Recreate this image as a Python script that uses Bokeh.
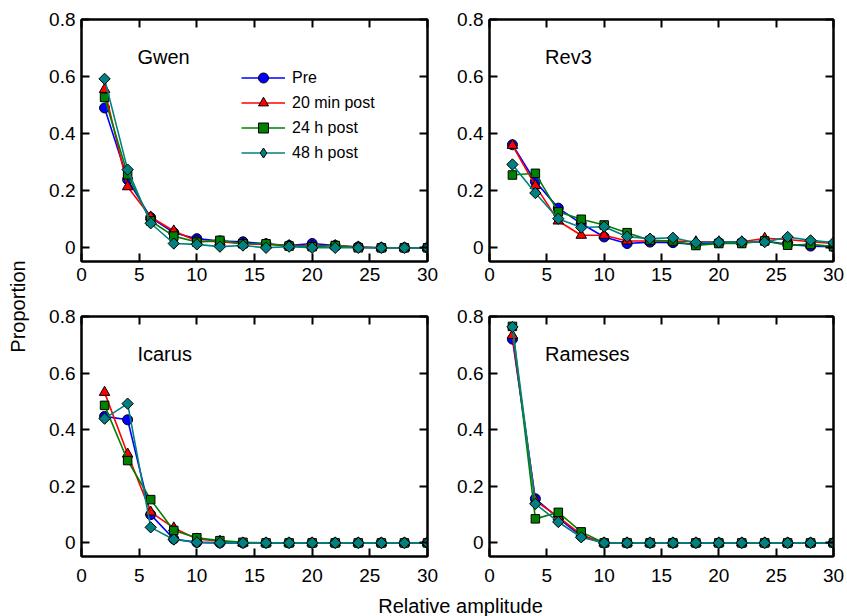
import math
from bokeh.plotting import figure
from bokeh.layouts import row, column
from bokeh.models import (Range1d, LinearAxis, FixedTicker, Label, Legend,
                          CustomJSTickFormatter)
from bokeh.embed import file_html
from bokeh.resources import INLINE

# ---------------- data ----------------
amp = [2, 4, 6, 8, 10, 12, 14, 16, 18, 20, 22, 24, 26, 28, 30]
x_ticks = [0, 5, 10, 15, 20, 25, 30]
y_ticks = [0, 0.2, 0.4, 0.6, 0.8]

series_names = ["Pre", "20 min post", "24 h post", "48 h post"]
panel_names = ["Gwen", "Rev3", "Icarus", "Rameses"]

gwen_pre = [0.490, 0.239, 0.106, 0.053, 0.032, 0.024, 0.021, 0.014, 0.008, 0.015, 0.008, 0.003, 0.0, 0.0, 0.0]
gwen_20m = [0.555, 0.214, 0.108, 0.059, 0.024, 0.021, 0.014, 0.012, 0.008, 0.006, 0.008, 0.003, 0.0, 0.0, 0.0]
gwen_24h = [0.527, 0.256, 0.094, 0.041, 0.020, 0.026, 0.014, 0.014, 0.006, 0.004, 0.008, 0.0, 0.0, 0.0, 0.0]
gwen_48h = [0.592, 0.274, 0.086, 0.015, 0.012, 0.004, 0.008, 0.0, 0.004, 0.0, 0.0, 0.0, 0.0, 0.0, 0.0]

rev3_pre = [0.361, 0.232, 0.139, 0.085, 0.038, 0.015, 0.020, 0.018, 0.012, 0.018, 0.018, 0.024, 0.012, 0.006, 0.004]
rev3_20m = [0.359, 0.218, 0.094, 0.044, 0.044, 0.024, 0.024, 0.024, 0.021, 0.021, 0.021, 0.033, 0.029, 0.021, 0.015]
rev3_24h = [0.255, 0.261, 0.126, 0.100, 0.080, 0.053, 0.026, 0.024, 0.008, 0.015, 0.015, 0.024, 0.009, 0.012, 0.004]
rev3_48h = [0.292, 0.192, 0.102, 0.071, 0.074, 0.039, 0.032, 0.035, 0.018, 0.020, 0.021, 0.020, 0.038, 0.026, 0.018]

icarus_pre = [0.447, 0.435, 0.100, 0.014, 0.002, 0.0, 0.0, 0.0, 0.0, 0.0, 0.0, 0.0, 0.0, 0.0, 0.0]
icarus_20m = [0.532, 0.314, 0.109, 0.053, 0.014, 0.006, 0.0, 0.0, 0.0, 0.0, 0.0, 0.0, 0.0, 0.0, 0.0]
icarus_24h = [0.486, 0.291, 0.153, 0.044, 0.018, 0.008, 0.002, 0.0, 0.0, 0.0, 0.0, 0.0, 0.0, 0.0, 0.0]
icarus_48h = [0.439, 0.492, 0.055, 0.012, 0.002, 0.0, 0.0, 0.0, 0.0, 0.0, 0.0, 0.0, 0.0, 0.0, 0.0]

rameses_pre = [0.720, 0.156, 0.088, 0.024, 0.0, 0.0, 0.0, 0.0, 0.0, 0.0, 0.0, 0.0, 0.0, 0.0, 0.0]
rameses_20m = [0.733, 0.149, 0.092, 0.029, 0.0, 0.0, 0.0, 0.0, 0.0, 0.0, 0.0, 0.0, 0.0, 0.0, 0.0]
rameses_24h = [0.765, 0.085, 0.108, 0.039, 0.0, 0.0, 0.0, 0.0, 0.0, 0.0, 0.0, 0.0, 0.0, 0.0, 0.0]
rameses_48h = [0.763, 0.138, 0.074, 0.020, 0.0, 0.0, 0.0, 0.0, 0.0, 0.0, 0.0, 0.0, 0.0, 0.0, 0.0]

panel_data = [
    [gwen_pre, gwen_20m, gwen_24h, gwen_48h],
    [rev3_pre, rev3_20m, rev3_24h, rev3_48h],
    [icarus_pre, icarus_20m, icarus_24h, icarus_48h],
    [rameses_pre, rameses_20m, rameses_24h, rameses_48h],
]

# ---------------- styles ----------------
FONT = "Liberation Sans"
colors = ["#0000FF", "#FF0000", "#008000", "#008080"]
markers = ["circle", "triangle", "square", "square"]
legend_markers = ["circle", "triangle", "square", "diamond"]
msizes = [10, 10.5, 8.5, 8]
mangles = [0, 0, 0, math.pi / 4]

y_fmt = CustomJSTickFormatter(code="return tick == 0 ? '0' : tick.toFixed(1);")

# (width, height, border_left, border_right, border_top, border_bottom, x label standoff)
geoms = [
    (410, 295, 51, 13, 19, 34, 6),
    (407, 295, 49, 14, 19, 34, 6),
    (410, 295, 51, 13, 21, 34, 12),
    (407, 295, 49, 14, 21, 34, 12),
]


def tick_only_axis(ticks):
    return LinearAxis(ticker=FixedTicker(ticks=ticks), major_tick_in=8, major_tick_out=0,
                      major_tick_line_width=2, axis_line_width=2,
                      minor_tick_line_color=None, major_label_text_font_size="1px",
                      major_label_text_color=None, major_label_standoff=0)


def make_panel(idx):
    w, h, bl, br, bt, bb, xstand = geoms[idx]
    p = figure(width=w, height=h, x_range=Range1d(0, 30), y_range=Range1d(-0.048, 0.8),
               output_backend="svg", toolbar_location=None,
               min_border_left=bl, min_border_right=br,
               min_border_top=bt, min_border_bottom=bb)
    p.grid.visible = False
    p.outline_line_color = "black"
    p.outline_line_width = 2
    p.background_fill_color = "white"
    p.border_fill_color = "white"

    for ax in [p.xaxis[0], p.yaxis[0]]:
        ax.axis_line_width = 2
        ax.major_tick_in = 8
        ax.major_tick_out = 0
        ax.major_tick_line_width = 2
        ax.minor_tick_line_color = None
        ax.major_label_text_font = FONT
        ax.major_label_text_font_size = "19px"
        ax.major_label_text_color = "black"
        ax.major_label_standoff = 6
    p.xaxis[0].major_label_standoff = xstand
    p.xaxis[0].ticker = FixedTicker(ticks=x_ticks)
    p.yaxis[0].ticker = FixedTicker(ticks=y_ticks)
    p.yaxis[0].formatter = y_fmt

    p.add_layout(tick_only_axis(x_ticks), "above")
    p.add_layout(tick_only_axis(y_ticks), "right")

    items = []
    for s in range(4):
        ys = panel_data[idx][s]
        ln = p.line(amp, ys, line_color=colors[s], line_width=1.6)
        sc = p.scatter(amp, ys, marker=markers[s], size=msizes[s], angle=mangles[s],
                       fill_color=colors[s], line_color="black", line_width=1)
        if idx == 0:
            if legend_markers[s] != markers[s]:
                # hidden swatch renderer used only for the legend symbol
                sw = p.scatter(amp, ys, marker=legend_markers[s], size=11,
                               fill_color=colors[s], line_color="black", line_width=1,
                               visible=False)
                items.append((series_names[s], [ln, sw]))
            else:
                items.append((series_names[s], [ln, sc]))

    p.add_layout(Label(x=4.85, y=0.668, text=panel_names[idx], text_font=FONT,
                       text_font_size="20px", text_color="black",
                       text_align="left", text_baseline="alphabetic"))

    if idx == 0:
        leg = Legend(items=items, location=(160, 96), padding=0, margin=0, spacing=-2,
                     glyph_width=44, glyph_height=25, label_height=25, label_standoff=7,
                     label_text_font=FONT, label_text_font_size="16px",
                     label_text_color="black", border_line_alpha=0,
                     background_fill_alpha=0, click_policy="none")
        p.add_layout(leg, "center")
    return p


panels = [make_panel(i) for i in range(4)]

# shared y label
ylab = figure(width=30, height=616, x_range=Range1d(0, 1), y_range=Range1d(0, 1),
              output_backend="svg", toolbar_location=None, min_border=0)
ylab.axis.visible = False
ylab.grid.visible = False
ylab.outline_line_color = None
ylab.add_layout(Label(x=17, y=310, x_units="screen", y_units="screen", text="Proportion",
                      angle=math.pi / 2, text_align="center", text_baseline="middle",
                      text_font=FONT, text_font_size="20px", text_color="black"))

# shared x label
xlab = figure(width=817, height=26, x_range=Range1d(0, 1), y_range=Range1d(0, 1),
              output_backend="svg", toolbar_location=None, min_border=0)
xlab.axis.visible = False
xlab.grid.visible = False
xlab.outline_line_color = None
xlab.add_layout(Label(x=430, y=11, x_units="screen", y_units="screen",
                      text="Relative amplitude", text_align="center",
                      text_baseline="middle", text_font=FONT,
                      text_font_size="20px", text_color="black"))

layout = row(ylab, column(row(panels[0], panels[1]), row(panels[2], panels[3]), xlab))

open("out.html", "w").write(file_html(layout, INLINE))
